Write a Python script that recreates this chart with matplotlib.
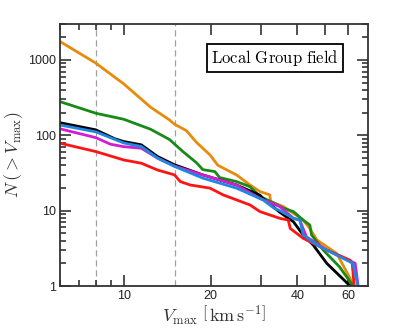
import matplotlib
matplotlib.use('Agg')
import matplotlib.pyplot as plt
from matplotlib.ticker import FixedLocator, FixedFormatter, NullFormatter

plt.rcParams['mathtext.fontset'] = 'cm'
plt.rcParams['font.family'] = ['Liberation Sans', 'DejaVu Sans']

# cumulative counts N(>Vmax)
v_orange = [6.0, 8.0, 10.0, 12.4, 14.4, 15.0, 16.5, 17.9, 19.9, 21.2, 24.6, 27.4, 29.7,
            32.1, 32.3, 35.8, 38.8, 41.9, 44.2, 46.7, 54.8, 63.0]
n_orange = [1760, 906, 480, 235, 160, 140, 115, 80, 55, 40, 29.8, 21.9, 17.9,
            16.2, 13.2, 11.3, 9.2, 7.5, 5.8, 4.1, 2.7, 1.0]

v_green = [6.0, 8.0, 10.0, 12.4, 14.4, 16.1, 17.9, 18.8, 20.7, 21.5, 24.6, 27.4, 29.7,
           33.2, 35.8, 38.8, 41.9, 44.2, 44.8, 49.2, 56.0, 62.5]
n_green = [280, 196, 163, 120, 88, 60, 43, 35, 33.0, 27.5, 24.3, 20.8, 15.4,
           12.6, 10.8, 9.7, 7.5, 6.45, 4.76, 3.0, 1.8, 1.0]

v_black = [6.0, 8.0, 9.3, 10.0, 11.5, 13.1, 15.0, 18.8, 24.6, 29.7, 30.4, 34.8, 38.8,
           41.9, 45.4, 50.6, 61.0]
n_black = [147, 118, 90, 82.6, 74.7, 52.2, 40.6, 29.8, 21.9, 16.0, 14.5, 9.5, 7.1,
           4.76, 3.5, 2.0, 1.0]

v_magenta = [6.0, 8.0, 9.0, 10.0, 11.5, 13.1, 15.0, 18.8, 24.6, 29.7, 34.8, 38.8,
             40.8, 43.0, 50.6, 63.5, 65.0]
n_magenta = [122, 93, 76, 70.6, 67.3, 49.7, 39.0, 29.8, 21.9, 14.5, 11.3, 7.9,
             7.5, 4.5, 3.0, 2.0, 1.0]

v_red = [6.0, 8.0, 10.0, 11.5, 13.1, 15.0, 15.7, 17.0, 19.9, 22.1, 24.6, 27.4, 29.7,
         34.8, 37.2, 37.8, 41.9, 50.6, 61.0, 62.0, 63.0]
n_red = [78.6, 60.8, 47, 42.6, 34.6, 29.8, 24.3, 21.9, 19.9, 16.2, 13.9, 11.9, 9.7,
         7.9, 7.5, 5.8, 4.3, 3.0, 2.2, 2.0, 1.0]

v_blue = [6.0, 8.0, 10.0, 11.5, 13.1, 15.0, 18.8, 24.6, 30.4, 33.2, 34.8, 38.8, 40.8,
          41.9, 46.7, 50.6, 62.3, 64.9]
n_blue = [137, 111, 79, 71, 49.7, 38.6, 27.0, 19.9, 13.9, 10.8, 10.0, 7.9, 7.5,
          4.76, 3.5, 3.0, 2.0, 1.0]

v_dashed = [8.0, 15.0]

x_major = [10, 20, 30, 40, 50, 60]
x_labels = ['10', '20', '', '40', '', '60']
x_minor = [6, 7, 8, 9]

fig = plt.figure(figsize=(4.07, 3.28), dpi=100)
ax = fig.add_axes([0.147, 0.128, 0.757, 0.799])

for v in v_dashed:
    ax.axvline(v, color='#a0a0a0', lw=0.9, ls=(0, (5, 3)), zorder=1)

ax.plot(v_orange, n_orange, color='#e88a0c', lw=2)
ax.plot(v_green, n_green, color='#178a17', lw=2)
ax.plot(v_black, n_black, color='black', lw=2)
ax.plot(v_magenta, n_magenta, color='#d21ed2', lw=2)
ax.plot(v_red, n_red, color='#ff1414', lw=2)
ax.plot(v_blue, n_blue, color='#1e88e0', lw=2)

ax.set_xscale('log')
ax.set_yscale('log')
ax.set_xlim(6.0, 70.3)
ax.set_ylim(1, 3000)

ax.xaxis.set_major_locator(FixedLocator(x_major))
ax.xaxis.set_major_formatter(FixedFormatter(x_labels))
ax.xaxis.set_minor_locator(FixedLocator(x_minor))
ax.xaxis.set_minor_formatter(NullFormatter())
ax.yaxis.set_major_locator(FixedLocator([1, 10, 100, 1000]))
ax.yaxis.set_major_formatter(FixedFormatter(['1', '10', '100', '1000']))

ax.tick_params(which='both', direction='in', top=True, right=True,
               color='#333333', width=1.2, labelsize=9, labelcolor='#222222')
ax.tick_params(which='major', length=8, pad=3)
ax.tick_params(which='minor', length=4.5)
for s in ax.spines.values():
    s.set_linewidth(1.3)
    s.set_color('#333333')

ax.set_xlabel(r'$V_{\rm max}\ \left[\,{\rm km\,s^{-1}}\right]$', fontsize=13,
              color='#333333', labelpad=1)
ax.set_ylabel(r'$N\,(>V_{\rm max})$', fontsize=13, color='#333333', labelpad=2)

ax.text(0.698, 0.870, r'${\rm Local\ Group\ field}$', transform=ax.transAxes,
        ha='center', va='center', fontsize=12,
        bbox=dict(boxstyle='square,pad=0.25', fc='white', ec='black', lw=1.3))

fig.savefig('out.png', dpi=100)
